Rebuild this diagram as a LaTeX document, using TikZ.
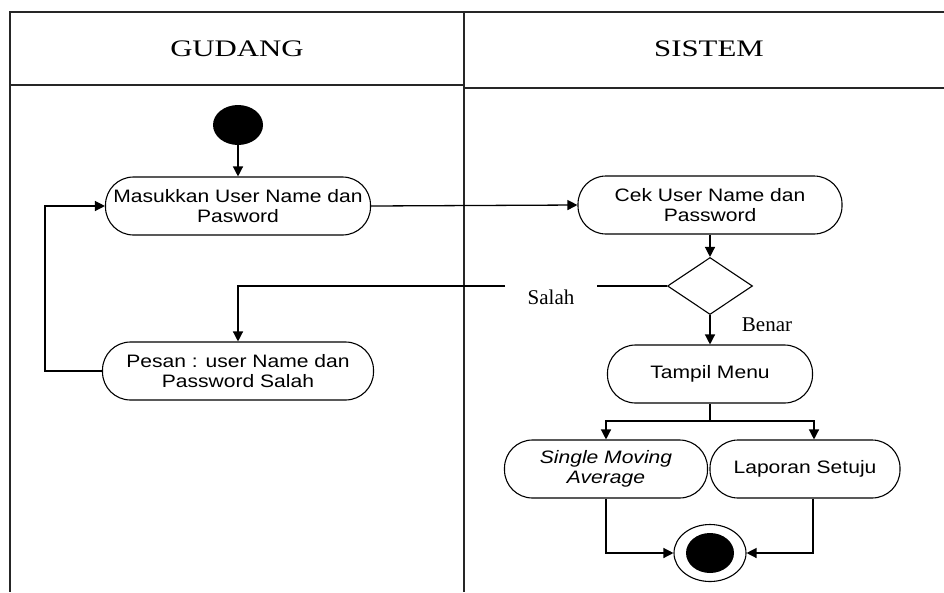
\documentclass[tikz,border=0pt]{standalone}
\usepackage{fontspec}
\setmainfont{Liberation Serif}
\newfontfamily\headfont{Liberation Serif}[FakeStretch=1.3]
\newfontfamily\boxfont{Liberation Sans}[FakeStretch=1.17]
\usetikzlibrary{arrows.meta,shapes.geometric}

\tikzset{
  lane/.style={line width=1.8pt, draw=black!85},
  flow/.style={line width=1.3pt, draw=black},
  arr/.style={flow, -{Triangle[width=10pt,length=10pt]}},
  activity/.style={draw, line width=1.1pt, rounded corners=28pt,
    minimum height=58pt, inner sep=0pt, align=center,
    font=\boxfont\fontsize{18}{20}\selectfont},
  headtext/.style={font=\headfont\fontsize{23.7}{28}\selectfont},
  guard/.style={font=\fontsize{21}{24}\selectfont, inner sep=0pt},
}

\begin{document}
\begin{tikzpicture}[x=1pt, y=-1pt]
\useasboundingbox (0,0) rectangle (944,592);

% swimlane frame
\draw[lane] (944,12) -- (10,12) -- (10,592);
\draw[lane] (464,12) -- (464,592);
\draw[lane] (10,85) -- (464,85);
\draw[lane] (464,88) -- (944,88);
\node[headtext] (hGudang) at (237,49) {GUDANG};
\node[headtext] (hSistem) at (709,49) {SISTEM};

% activity nodes
\node[ellipse, fill=black, minimum width=50pt, minimum height=40pt, inner sep=0pt] (start) at (238,125) {};
\node[activity, minimum width=265pt] (masuk) at (238,206) {Masukkan User Name dan\\Pasword};
\node[activity, minimum width=271pt] (pesan) at (238,371) {Pesan : user Name dan\\Password Salah};
\node[activity, minimum width=264pt] (cek) at (710,205) {Cek User Name dan\\Password};
\node[diamond, draw, line width=1.1pt, minimum width=85pt, minimum height=57pt, inner sep=0pt] (dec) at (710,286) {};
\node[activity, minimum width=205pt] (tampil) at (710,374) {Tampil Menu};
\node[activity, minimum width=203pt] (sma) at (606,469) {\itshape Single Moving\\\itshape Average};
\node[activity, minimum width=190pt] (lap) at (805,469) {Laporan Setuju};
\node[ellipse, draw, line width=1.1pt, minimum width=72pt, minimum height=57pt] (endo) at (710,553) {};
\node[ellipse, fill=black, minimum width=48pt, minimum height=40pt, inner sep=0pt] (endi) at (710,553) {};

% guard labels
\node[guard] (lSalah) at (551,297) {Salah};
\node[guard] (lBenar) at (767,325) {Benar};

% free ends of the broken "Salah" line and the fork point
\coordinate (sgapR) at (597,286);
\coordinate (sgapL) at (505,286);
\coordinate (fork) at (710,421);

% connectors
\draw[arr] (start) -- (masuk);
\draw[arr] (masuk.east) -- (cek.west);
\draw[arr] (cek) -- (dec);
\draw[flow] (dec.west) -- (sgapR);
\draw[arr] (sgapL) -| (pesan.north);
\draw[arr] (pesan.west) -- ++(-57,0) |- (masuk.west);
\draw[arr] (dec.south) -- (tampil.north);
\draw[flow] (tampil.south) -- (fork);
\draw[arr] (fork) -| (sma.north);
\draw[arr] (fork) -| ([xshift=9pt]lap.north);
\draw[arr] (sma.south) |- (endo.west);
\draw[arr] ([xshift=8pt]lap.south) |- (endo.east);
\end{tikzpicture}
\end{document}
